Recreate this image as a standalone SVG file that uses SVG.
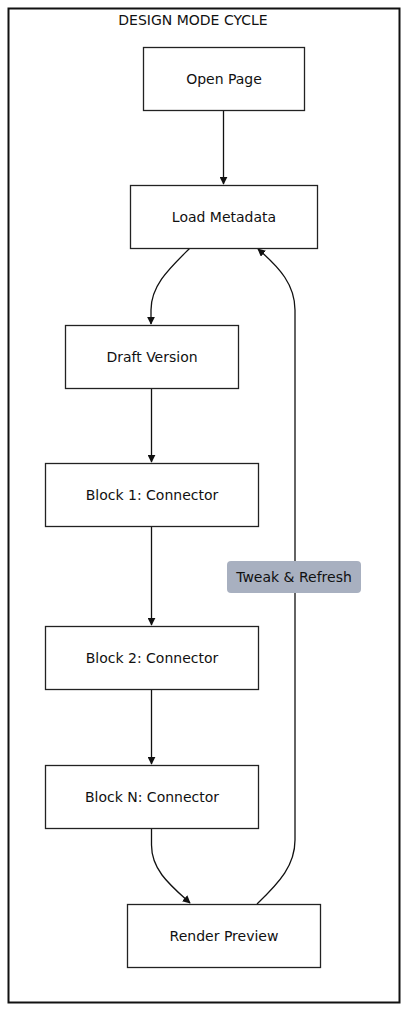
<svg xmlns="http://www.w3.org/2000/svg" width="408" height="1011" viewBox="0 0 408 1011">
<style>
.node rect{fill:#fff;stroke:#222;stroke-width:1.3}
.lbl{font-family:"DejaVu Sans",Verdana,sans-serif;font-size:14px;fill:#111;text-anchor:middle;dominant-baseline:central}
.edge{fill:none;stroke:#111;stroke-width:1.3}
</style>
<defs>
<marker id="arr" viewBox="0 0 10 10" refX="9" refY="5" markerWidth="8" markerHeight="8" orient="auto-start-reverse" markerUnits="userSpaceOnUse">
<path d="M0,0 L10,5 L0,10 z" fill="#111"/>
</marker>
</defs>
<rect width="408" height="1011" fill="#fff"/>
<g id="cluster">
<rect x="8.5" y="8.5" width="391" height="994" fill="none" stroke="#111" stroke-width="2"/>
<text class="lbl" x="193" y="20">DESIGN MODE CYCLE</text>
</g>
<g id="connectors">
<path class="edge" d="M223.5,110 L223.5,184" marker-end="url(#arr)"/>
<path class="edge" d="M190,248 C170,268 151,285 151,310 L151,324" marker-end="url(#arr)"/>
<path class="edge" d="M151.5,388 L151.5,462" marker-end="url(#arr)"/>
<path class="edge" d="M151.5,526 L151.5,625" marker-end="url(#arr)"/>
<path class="edge" d="M151.5,689 L151.5,764" marker-end="url(#arr)"/>
<path class="edge" d="M151.5,828 L151.5,845 C151.5,870 170,885 190,903" marker-end="url(#arr)"/>
<path class="edge" d="M257,904 C280,882 295,865 295,840 L295,310 C295,285 280,268 258,249" marker-end="url(#arr)"/>
<rect x="227" y="561" width="134" height="32" rx="4" fill="#a8b0c0"/>
<text class="lbl" x="294" y="577">Tweak &amp; Refresh</text>
</g>
<g id="open" class="node"><rect x="143.5" y="47.5" width="161" height="63"/><text class="lbl" x="224" y="79">Open Page</text></g>
<g id="load" class="node"><rect x="130.5" y="185.5" width="187" height="63"/><text class="lbl" x="224" y="217">Load Metadata</text></g>
<g id="draft" class="node"><rect x="65.5" y="325.5" width="173" height="63"/><text class="lbl" x="152" y="357">Draft Version</text></g>
<g id="block1" class="node"><rect x="45.5" y="463.5" width="213" height="63"/><text class="lbl" x="152" y="495">Block 1: Connector</text></g>
<g id="block2" class="node"><rect x="45.5" y="626.5" width="213" height="63"/><text class="lbl" x="152" y="658">Block 2: Connector</text></g>
<g id="blockn" class="node"><rect x="45.5" y="765.5" width="213" height="63"/><text class="lbl" x="152" y="797">Block N: Connector</text></g>
<g id="render" class="node"><rect x="127.5" y="904.5" width="193" height="63"/><text class="lbl" x="224" y="936">Render Preview</text></g>
</svg>
